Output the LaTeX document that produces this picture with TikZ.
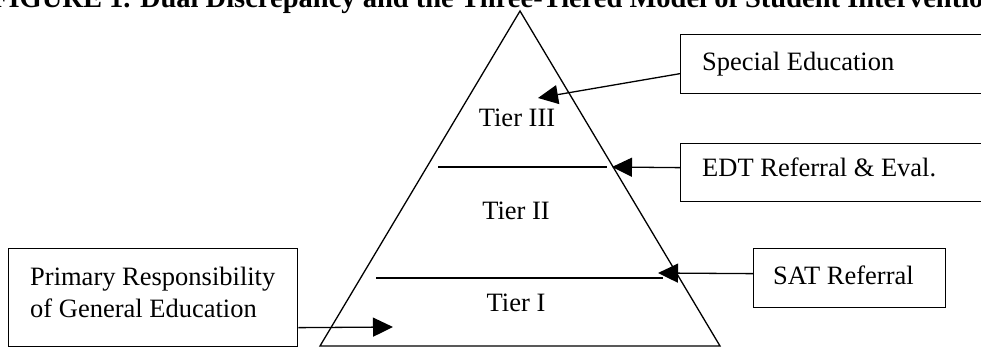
\documentclass[tikz,border=0pt]{standalone}
\usepackage{fontspec}
\setmainfont{Liberation Serif}
\usetikzlibrary{arrows.meta}
\tikzset{
  every picture/.style={x=1pt,y=-1pt},
  ln/.style={line width=1.3pt, line cap=butt},
  arr/.style={ln, -{Triangle[length=20pt,width=19pt]}},
  boxsty/.style={draw, line width=1.3pt, anchor=north west, inner sep=0pt},
  txt/.style={font=\fontsize{26.5}{31.8}\selectfont, inner sep=0pt, align=left},
  ttl/.style={font=\fontsize{28.5}{34}\selectfont\bfseries, inner sep=0pt},
}
\begin{document}
\begin{tikzpicture}
\useasboundingbox (0,0) rectangle (981,347);
\clip (0,0) rectangle (981,347);
\fill[white] (0,0) rectangle (981,347);
% title
\node[ttl, anchor=base west] (title) at (-9,7.5) {FIGURE 1. Dual Discrepancy and the Three-Tiered Model of Student Intervention};
% pyramid
\draw[ln, line join=miter] (520,11) -- (720,346) -- (320,346) -- cycle;
\draw[ln] (438,167) -- (607,167);
\draw[ln] (376,278) -- (663,278);
\node[txt, anchor=base] (t3) at (517,127) {Tier III};
\node[txt, anchor=base] (t2) at (516,219) {Tier II};
\node[txt, anchor=base] (t1) at (516,311) {Tier I};
% boxes
\node[boxsty, minimum width=330pt, minimum height=59pt] (sped) at (680,34) {};
\node[txt, anchor=base west] (spedtxt) at (702,71) {Special Education};
\node[boxsty, minimum width=330pt, minimum height=58pt] (edt) at (680,143) {};
\node[txt, anchor=base west] (edttxt) at (702,176.5) {EDT Referral \& Eval.};
\node[boxsty, minimum width=192pt, minimum height=59pt] (sat) at (753,248) {};
\node[txt, anchor=base west] (sattxt) at (773,284) {SAT Referral};
\node[boxsty, minimum width=289pt, minimum height=98pt] (prim) at (8,248) {};
\node[txt, anchor=base west] (primtxt) at (30,317) {Primary Responsibility\\of General Education};
% arrow tips
\coordinate (tipsped) at (538,98);
\coordinate (tipedt) at (612,167);
\coordinate (tipsat) at (658,273);
\coordinate (tipprim) at (393,327);
% connectors
\draw[arr] ([yshift=-9.5pt]sped.west) -- (tipsped);
\draw[arr] ([yshift=5pt]edt.west) -- (tipedt);
\draw[arr] ([yshift=4.5pt]sat.west) -- (tipsat);
\draw[arr] ([yshift=-30pt]prim.east) -- (tipprim);
\end{tikzpicture}
\end{document}
